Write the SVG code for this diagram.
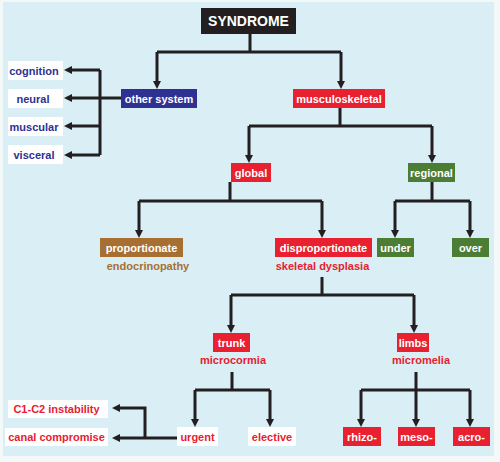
<svg xmlns="http://www.w3.org/2000/svg" width="500" height="462" viewBox="0 0 500 462">
<defs>
<style>
.t{font-family:"Liberation Sans",Arial,sans-serif;font-weight:bold;font-size:11px;text-anchor:middle}
.w{fill:#ffffff}
.r{fill:#e8202f}
.b{fill:#2e3192}
.br{fill:#a86f32}
.g{fill:#4b7d35}
.wb{fill:#ffffff}
.c path{fill:none;stroke:#231f20;stroke-width:3}
.c path.a{marker-end:url(#ah)}
</style>
<marker id="ah" viewBox="0 0 8 8" markerWidth="8" markerHeight="8" refX="2" refY="4" orient="auto" markerUnits="userSpaceOnUse">
<path d="M0,0 L8,4 L0,8 z" fill="#231f20"/>
</marker>
</defs>
<rect x="0" y="0" width="500" height="462" fill="#f3f8f8"/>
<rect x="3" y="2" width="491" height="454" fill="#d9eef5"/>

<g class="c" id="connectors">
<path d="M250,34 V52 M157,52 H341"/>
<path class="a" d="M157,52 V83"/>
<path class="a" d="M341,52 V83"/>
<path d="M121,98 H100 M100,70 V155"/>
<path class="a" d="M100,70 H70"/>
<path class="a" d="M100,98 H70"/>
<path class="a" d="M100,126 H70"/>
<path class="a" d="M100,155 H70"/>
<path d="M340,108 V126 M249,126 H432"/>
<path class="a" d="M249,126 V157"/>
<path class="a" d="M432,126 V157"/>
<path d="M230,182 V201 M139,201 H322"/>
<path class="a" d="M139,201 V232"/>
<path class="a" d="M322,201 V232"/>
<path d="M432,182 V201 M395,201 H470"/>
<path class="a" d="M395,201 V232"/>
<path class="a" d="M470,201 V232"/>
<path d="M322,277 V295 M231,295 H414"/>
<path class="a" d="M231,295 V327"/>
<path class="a" d="M414,295 V327"/>
<path d="M232,372 V390 M195,390 H270"/>
<path class="a" d="M195,390 V421"/>
<path class="a" d="M270,390 V421"/>
<path d="M361,390 H470"/>
<path class="a" d="M416,372 V421"/>
<path class="a" d="M361,390 V421"/>
<path class="a" d="M470,390 V421"/>
<path class="a" d="M177,438 H118"/>
<path class="a" d="M145,438 V408 H118"/>
</g>

<g id="syndrome"><rect x="201" y="8" width="95" height="26" fill="#231f20"/><text class="t w" x="248.5" y="26" style="font-size:14px">SYNDROME</text></g>
<g id="other-system"><rect x="121" y="89" width="76" height="19" class="b"/><text class="t w" x="159" y="102.5">other system</text></g>
<g id="musculoskeletal"><rect x="293" y="89" width="92" height="19" class="r"/><text class="t w" x="339" y="102.5">musculoskeletal</text></g>
<g id="cognition"><rect x="8" y="61" width="55" height="19" class="wb"/><text class="t b" x="34" y="74.5">cognition</text></g>
<g id="neural"><rect x="8" y="89" width="55" height="19" class="wb"/><text class="t b" x="33" y="102.5">neural</text></g>
<g id="muscular"><rect x="8" y="117" width="55" height="19" class="wb"/><text class="t b" x="34" y="130.5">muscular</text></g>
<g id="visceral"><rect x="8" y="145" width="55" height="19" class="wb"/><text class="t b" x="34" y="158.5">visceral</text></g>
<g id="global"><rect x="231" y="163" width="40" height="19" class="r"/><text class="t w" x="251" y="176.5">global</text></g>
<g id="regional"><rect x="408" y="163" width="47" height="19" class="g"/><text class="t w" x="431.5" y="176.5">regional</text></g>
<g id="proportionate"><rect x="100" y="238" width="83" height="19" class="br"/><text class="t w" x="141.5" y="251.5">proportionate</text><text class="t br" x="148" y="270">endocrinopathy</text></g>
<g id="disproportionate"><rect x="275" y="238" width="97" height="19" class="r"/><text class="t w" x="323.5" y="251.5">disproportionate</text><text class="t r" x="322.5" y="270">skeletal dysplasia</text></g>
<g id="under"><rect x="377" y="238" width="37" height="19" class="g"/><text class="t w" x="395.5" y="251.5">under</text></g>
<g id="over"><rect x="452" y="238" width="37" height="19" class="g"/><text class="t w" x="470.5" y="251.5">over</text></g>
<g id="trunk"><rect x="213" y="333" width="37" height="19" class="r"/><text class="t w" x="231.5" y="346.5">trunk</text><text class="t r" x="233" y="364">microcormia</text></g>
<g id="limbs"><rect x="397" y="333" width="32" height="19" class="r"/><text class="t w" x="413" y="346.5">limbs</text><text class="t r" x="421" y="364">micromelia</text></g>
<g id="urgent"><rect x="177" y="427" width="41" height="19" class="wb"/><text class="t r" x="197.5" y="440.5">urgent</text></g>
<g id="elective"><rect x="248" y="427" width="48" height="19" class="wb"/><text class="t r" x="272" y="440.5">elective</text></g>
<g id="c1c2"><rect x="8" y="400" width="100" height="18" class="wb"/><text class="t r" x="56.5" y="413">C1-C2 instability</text></g>
<g id="canal"><rect x="5" y="428" width="103" height="18" class="wb"/><text class="t r" x="56.5" y="441">canal compromise</text></g>
<g id="rhizo"><rect x="343" y="427" width="38" height="19" class="r"/><text class="t w" x="362" y="440.5">rhizo-</text></g>
<g id="meso"><rect x="398" y="427" width="37" height="19" class="r"/><text class="t w" x="416.5" y="440.5">meso-</text></g>
<g id="acro"><rect x="453" y="427" width="37" height="19" class="r"/><text class="t w" x="471.5" y="440.5">acro-</text></g>
</svg>
